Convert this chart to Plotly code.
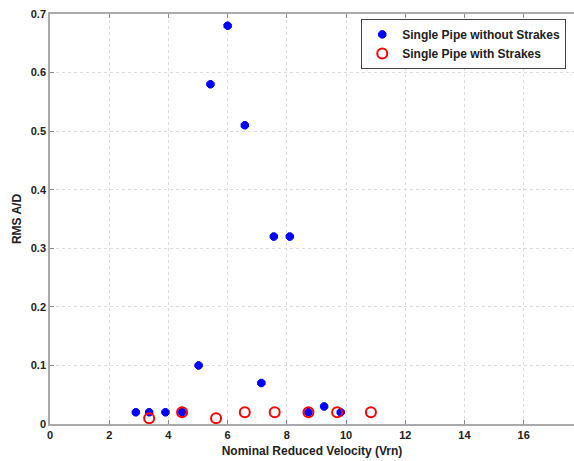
import plotly.graph_objects as go

# Data
x_without = [2.9, 3.35, 3.9, 4.46, 5.02, 5.42, 6.0, 6.58, 7.14, 7.56, 8.1, 8.73, 9.26, 9.82]
y_without = [0.02, 0.02, 0.02, 0.02, 0.10, 0.58, 0.68, 0.51, 0.07, 0.32, 0.32, 0.02, 0.03, 0.02]
x_with = [3.35, 4.46, 5.61, 6.58, 7.59, 8.73, 9.7, 10.84]
y_with = [0.01, 0.02, 0.01, 0.02, 0.02, 0.02, 0.02, 0.02]
x_ticks = [0, 2, 4, 6, 8, 10, 12, 14, 16]
y_ticks = [0, 0.1, 0.2, 0.3, 0.4, 0.5, 0.6, 0.7]
y_ticktext = ["0", "0.1", "0.2", "0.3", "0.4", "0.5", "0.6", "0.7"]

FONT = "Arial, Liberation Sans, sans-serif"

fig = go.Figure()
fig.add_trace(go.Scatter(
    x=x_without, y=y_without, mode="markers", name="Single Pipe without Strakes",
    marker=dict(symbol="octagon", size=8, color="#0000ff",
                line=dict(color="#0000ff", width=1)),
))
fig.add_trace(go.Scatter(
    x=x_with, y=y_with, mode="markers", name="Single Pipe with Strakes",
    marker=dict(symbol="circle-open", size=10, color="#ff0000",
                line=dict(color="#ff0000", width=2)),
))

fig.update_layout(
    width=574, height=461,
    margin=dict(l=50, r=0, t=14, b=37),
    paper_bgcolor="white", plot_bgcolor="white",
    font=dict(family=FONT, color="#222222"),
    legend=dict(
        x=0.594, y=0.988, xanchor="left", yanchor="top",
        bgcolor="white", bordercolor="#444444", borderwidth=1,
        font=dict(family=FONT, size=12, color="#222222", weight="bold"),
        tracegroupgap=0,
    ),
    showlegend=True,
)
fig.update_xaxes(
    range=[0, 17.7], tickvals=x_ticks, ticktext=[str(v) for v in x_ticks],
    showline=True, linecolor="#aaaaaa", linewidth=1.5, mirror="ticks",
    ticks="inside", ticklen=4, tickcolor="#888888",
    showgrid=True, gridcolor="#dddddd", griddash="dot", gridwidth=1,
    zeroline=False,
    tickfont=dict(family=FONT, size=11, color="#222222", weight="bold"),
    title=dict(text="Nominal Reduced Velocity (Vrn)", standoff=7,
               font=dict(family=FONT, size=12, color="#222222", weight="bold")),
)
fig.update_yaxes(
    range=[0, 0.7], tickvals=y_ticks, ticktext=y_ticktext,
    showline=True, linecolor="#aaaaaa", linewidth=1.5, mirror=False,
    ticks="inside", ticklen=4, tickcolor="#888888",
    showgrid=True, gridcolor="#dddddd", griddash="dot", gridwidth=1,
    zeroline=False,
    tickfont=dict(family=FONT, size=11, color="#222222", weight="bold"),
    title=dict(text="RMS A/D", standoff=7,
               font=dict(family=FONT, size=12, color="#222222", weight="bold")),
)

fig.write_html("out.html", config={"displayModeBar": False},
               post_script="document.body.style.margin='0';document.body.style.padding='0';")
